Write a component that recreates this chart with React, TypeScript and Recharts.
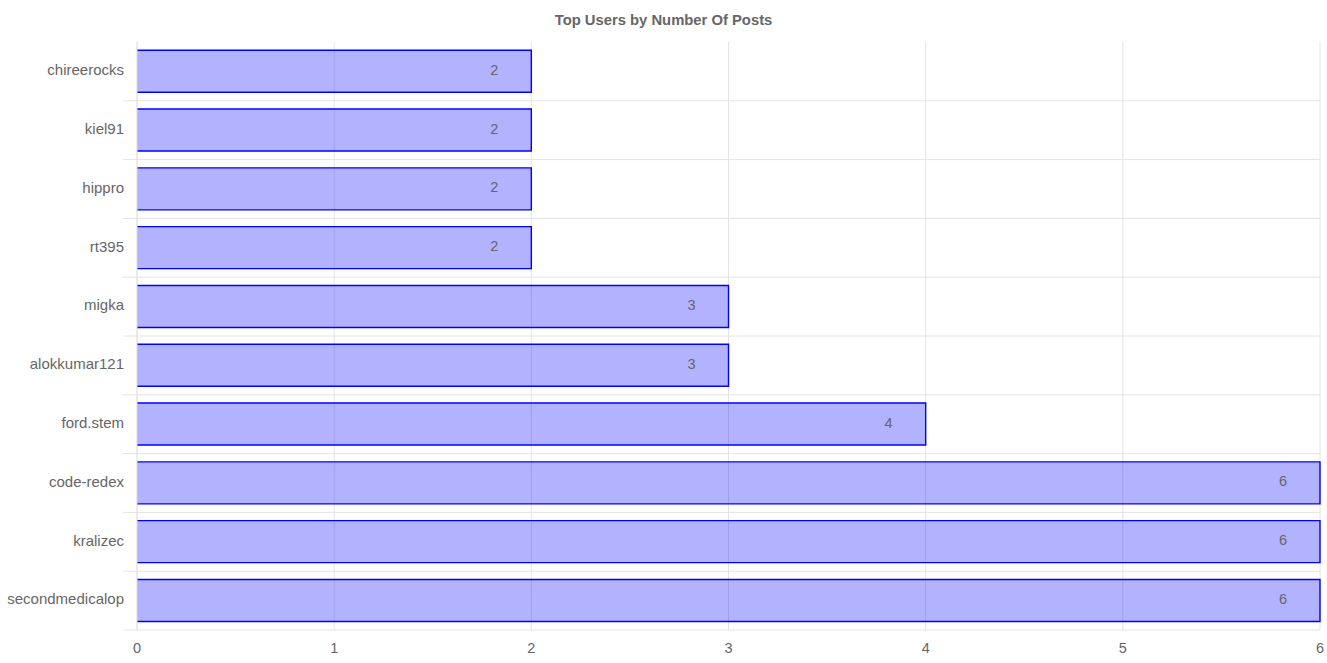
import React from "react";
import {
  BarChart,
  Bar,
  XAxis,
  YAxis,
  CartesianGrid,
  LabelList,
} from "recharts";

const users = [
  "chireerocks",
  "kiel91",
  "hippro",
  "rt395",
  "migka",
  "alokkumar121",
  "ford.stem",
  "code-redex",
  "kralizec",
  "secondmedicalop",
];
const posts = [2, 2, 2, 2, 3, 3, 4, 6, 6, 6];
const xTicks = [0, 1, 2, 3, 4, 5, 6];

const data = users.map((name, i) => ({ name, posts: posts[i] }));

const FONT = "'Liberation Sans', Arial, Helvetica, sans-serif";
const GRID = "#e4e4e4";

// bar with border on top / right / bottom only (left edge sits on the axis)
function OpenBar(props: any) {
  const { x, y, width, height } = props;
  if (!width || !height) return null;
  return (
    <g>
      <rect x={x} y={y} width={width} height={height} fill="rgba(0,0,255,0.3)" />
      <path
        d={`M${x},${y} H${x + width} V${y + height} H${x}`}
        fill="none"
        stroke="#0000ff"
        strokeWidth={1.4}
      />
    </g>
  );
}

export default function App() {
  const W = 1327;
  const H = 663;
  const top = 42;
  const bottom = 33;
  const left = 137;
  const right = 7;

  // category boundaries for the horizontal grid lines
  const rowLines = ({ offset }: any) => {
    const n = users.length;
    const out: number[] = [];
    for (let i = 1; i <= n; i++) out.push(offset.top + (offset.height * i) / n);
    return out;
  };

  return (
    <div
      style={{
        position: "absolute",
        left: 0,
        top: 0,
        width: W,
        height: H,
        background: "#fff",
        fontFamily: FONT,
      }}
    >
      <div
        style={{
          position: "absolute",
          top: 12,
          left: 0,
          width: W,
          textAlign: "center",
          fontSize: 14.8,
          fontWeight: "bold",
          color: "#666",
        }}
      >
        Top Users by Number Of Posts
      </div>
      <BarChart
        width={W}
        height={H}
        data={data}
        layout="vertical"
        margin={{ top, right, bottom: 0, left: 0 }}
        barCategoryGap="14%"
        style={{ fontFamily: FONT }}
      >
        <CartesianGrid
          horizontal={true}
          vertical={false}
          stroke={GRID}
          x={123}
          width={W - right - 123}
          horizontalCoordinatesGenerator={rowLines}
        />
        <CartesianGrid horizontal={false} vertical={true} stroke={GRID} />
        <XAxis
          type="number"
          domain={[0, 6]}
          ticks={xTicks}
          height={bottom}
          axisLine={false}
          tickLine={false}
          tickMargin={7}
          tick={{ fill: "#666", fontSize: 14.5 }}
          interval={0}
        />
        <YAxis
          type="category"
          dataKey="name"
          width={left}
          axisLine={{ stroke: GRID }}
          tickLine={false}
          tickSize={6}
          tickMargin={7}
          tick={{ fill: "#666", fontSize: 15, dy: -1.5 }}
          interval={0}
        />
        <Bar dataKey="posts" shape={<OpenBar />} isAnimationActive={false}>
          <LabelList
            dataKey="posts"
            position="insideRight"
            offset={33}
            fill="#666"
            fontSize={14.5}
            dy={-1.5}
          />
        </Bar>
      </BarChart>
    </div>
  );
}
